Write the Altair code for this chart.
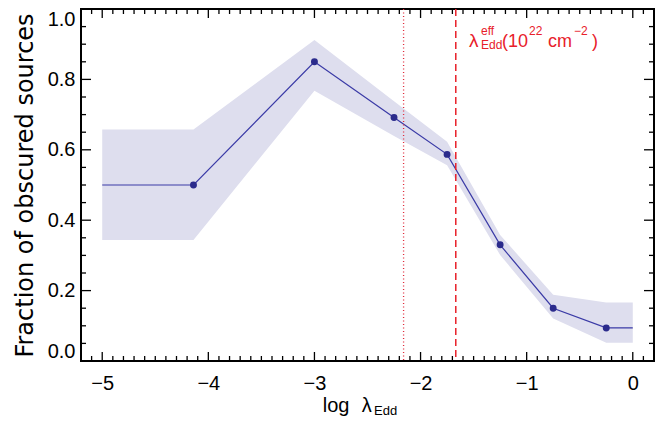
import altair as alt
import numpy as np
import pandas as pd

# ---- data ----
x_pts = [-4.14, -3.0, -2.25, -1.75, -1.25, -0.75, -0.25]
y_pts = [0.50, 0.850, 0.692, 0.587, 0.330, 0.150, 0.094]

x_line = [-5.0] + x_pts + [0.0]
y_line = [0.50] + y_pts + [0.094]

band_x = [-5.0, -4.14, -3.0, -2.25, -1.75, -1.25, -0.75, -0.25, 0.0]
band_hi = [0.658, 0.658, 0.912, 0.738, 0.623, 0.358, 0.188, 0.166, 0.166]
band_lo = [0.344, 0.344, 0.768, 0.639, 0.556, 0.301, 0.121, 0.052, 0.052]

vline_dotted = [-2.16]
vline_dashed = [-1.668]

x_ticks = [-5, -4, -3, -2, -1, 0]
y_ticks = [0.0, 0.2, 0.4, 0.6, 0.8, 1.0]
x_minor = [v for v in np.round(np.arange(-5.2, 0.201, 0.1), 2) if abs(v - round(v)) > 1e-6]
y_minor = [v for v in np.round(np.arange(0.0, 1.001, 0.05), 2) if abs(v * 5 - round(v * 5)) > 1e-6]

W, H = 573, 352
LINE_C = "#3a3aa6"
DOT_C = "#2b2b8c"
BAND_C = "#dedeee"
RED = "#e8202a"

xscale = alt.Scale(domain=[-5.2, 0.2], nice=False, zero=False)
yscale = alt.Scale(domain=[0.0, 1.0], nice=False, zero=False)

xaxis = alt.Axis(values=x_ticks, format="d", labelFont="Liberation Sans", labelFontSize=20,
                 labelPadding=12, ticks=False, domain=False, grid=False, title=None,
                 labelColor="black")
yaxis = alt.Axis(values=y_ticks, format=".1f", labelFont="Liberation Sans", labelFontSize=20,
                 labelPadding=6, labelFlush=True, ticks=False, domain=False, grid=False,
                 title="Fraction of obscured sources", titleFont="DejaVu Sans",
                 titleFontSize=24, titleFontWeight="normal", titleColor="black",
                 titleX=-49, titleY=H / 2, titleAngle=270, titleAlign="center",
                 titleBaseline="alphabetic", labelColor="black")


def X(field="x"):
    return alt.X(f"{field}:Q", scale=xscale, axis=xaxis)


def Y(field="y"):
    return alt.Y(f"{field}:Q", scale=yscale, axis=yaxis)


band = alt.Chart(pd.DataFrame({"x": band_x, "y": band_hi, "y2": band_lo})).mark_area(
    color=BAND_C, opacity=1).encode(x=X(), y=Y(), y2="y2:Q")

line = alt.Chart(pd.DataFrame({"x": x_line, "y": y_line})).mark_line(
    color=LINE_C, strokeWidth=1.2).encode(x=X(), y=Y())

pts = alt.Chart(pd.DataFrame({"x": x_pts, "y": y_pts})).mark_circle(
    color=DOT_C, size=48, opacity=1).encode(x=X(), y=Y())

v_dot = alt.Chart(pd.DataFrame({"x": vline_dotted})).mark_rule(
    color="#e02a3a", strokeWidth=1.3, strokeDash=[1, 2.5]).encode(
    x=X(), y=alt.value(0), y2=alt.value(H))
v_dash = alt.Chart(pd.DataFrame({"x": vline_dashed})).mark_rule(
    color=RED, strokeWidth=1.5, strokeDash=[7, 4]).encode(
    x=X(), y=alt.value(0), y2=alt.value(H))

# inward ticks on all four sides
tick_layers = []
for vals, ln in [(x_ticks, 9), (x_minor, 5)]:
    df = pd.DataFrame({"x": vals})
    tick_layers.append(alt.Chart(df).mark_rule(color="black", strokeWidth=1.3).encode(
        x=X(), y=alt.value(H), y2=alt.value(H - ln)))
    tick_layers.append(alt.Chart(df).mark_rule(color="black", strokeWidth=1.3).encode(
        x=X(), y=alt.value(0), y2=alt.value(ln)))
for vals, ln in [(y_ticks, 10), (y_minor, 5)]:
    df = pd.DataFrame({"y": vals})
    tick_layers.append(alt.Chart(df).mark_rule(color="black", strokeWidth=1.3).encode(
        y=Y(), x=alt.value(0), x2=alt.value(ln)))
    tick_layers.append(alt.Chart(df).mark_rule(color="black", strokeWidth=1.3).encode(
        y=Y(), x=alt.value(W), x2=alt.value(W - ln)))


def txt(s, x, y, size, color="black", font="Liberation Sans"):
    return alt.Chart(alt.Data(values=[{}])).mark_text(
        text=s, font=font, fontSize=size, color=color, align="left",
        baseline="alphabetic").encode(x=alt.value(x), y=alt.value(y))


texts = [
    # x-axis title: log λ_Edd
    txt("log", 241.7, 402.7, 20),
    txt("λ", 280.7, 402.7, 20),
    txt("Edd", 293.0, 406, 13),
    # annotation: λ_Edd^eff (10^22 cm^-2)
    txt("λ", 388, 37.7, 19, RED),
    txt("eff", 400, 26, 12, RED),
    txt("Edd", 400, 39.5, 12, RED),
    txt("(10", 421, 37.7, 18, RED),
    txt("22", 448, 26, 12, RED),
    txt("cm", 467, 37.7, 18, RED),
    txt("\u22122", 493, 26, 12, RED),
    txt(")", 511, 37.7, 18, RED),
]

chart = alt.layer(band, line, pts, v_dot, v_dash, *tick_layers, *texts).properties(
    width=W, height=H,
    autosize=alt.AutoSizeParams(type="none"),
    padding={"left": 81, "top": 9, "right": 14, "bottom": 63},
    background="white",
).configure_view(stroke="black", strokeWidth=2)

chart.save("out.html", embed_options={"renderer": "svg", "actions": False})
